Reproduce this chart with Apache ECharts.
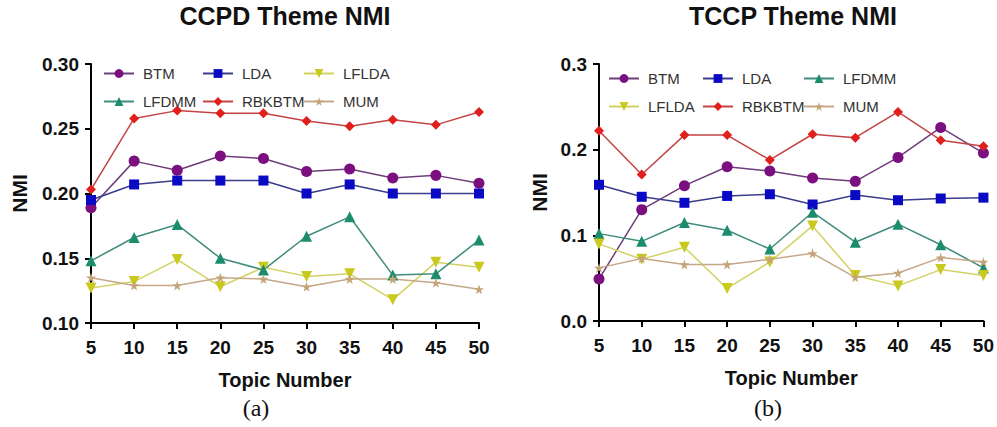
<!DOCTYPE html>
<html>
<head>
<meta charset="utf-8">
<script src="https://cdn.jsdelivr.net/npm/echarts@6/dist/echarts.min.js"></script>
<style>
  html, body { margin: 0; padding: 0; background: #fff; }
  #chart { width: 997px; height: 427px; }
</style>
</head>
<body>
<div id="chart"></div>
<script>
// topic numbers (x axis)
const topics = [5, 10, 15, 20, 25, 30, 35, 40, 45, 50]

// (a) CCPD Theme NMI
const ccpdBTM    = [0.189, 0.225, 0.218, 0.229, 0.227, 0.217, 0.219, 0.212, 0.214, 0.208]
const ccpdLDA    = [0.195, 0.207, 0.210, 0.210, 0.210, 0.200, 0.207, 0.200, 0.200, 0.200]
const ccpdLFLDA  = [0.127, 0.132, 0.149, 0.128, 0.143, 0.136, 0.138, 0.118, 0.147, 0.143]
const ccpdLFDMM  = [0.148, 0.166, 0.176, 0.150, 0.141, 0.167, 0.182, 0.137, 0.138, 0.164]
const ccpdRBKBTM = [0.203, 0.258, 0.264, 0.262, 0.262, 0.256, 0.252, 0.257, 0.253, 0.263]
const ccpdMUM    = [0.135, 0.129, 0.129, 0.135, 0.134, 0.128, 0.134, 0.134, 0.131, 0.126]

// (b) TCCP Theme NMI
const tccpBTM    = [0.049, 0.130, 0.158, 0.180, 0.175, 0.167, 0.163, 0.191, 0.226, 0.196]
const tccpLDA    = [0.159, 0.145, 0.138, 0.146, 0.148, 0.136, 0.147, 0.141, 0.143, 0.144]
const tccpLFDMM  = [0.102, 0.093, 0.115, 0.106, 0.084, 0.127, 0.092, 0.113, 0.089, 0.062]
const tccpLFLDA  = [0.090, 0.072, 0.086, 0.038, 0.069, 0.111, 0.053, 0.041, 0.060, 0.053]
const tccpRBKBTM = [0.222, 0.171, 0.217, 0.217, 0.188, 0.218, 0.214, 0.244, 0.211, 0.204]
const tccpMUM    = [0.062, 0.073, 0.066, 0.066, 0.072, 0.079, 0.051, 0.056, 0.074, 0.069]

const starPath = 'path://M50,0 L61,35 L98,35 L68,57 L79,91 L50,70 L21,91 L32,57 L2,35 L39,35 Z'
const sans = '"Liberation Sans", Arial, sans-serif'

// 样式
const styles = {
  BTM:    { symbol: 'circle',   size: 11, rotate: 0,   mark: '#7b0f80', line: '#6e3d7c' },
  LDA:    { symbol: 'rect',     size: 10, rotate: 0,   mark: '#0a0ac4', line: '#3c3c8c' },
  LFLDA:  { symbol: 'triangle', size: 11, rotate: 180, mark: '#c9c91e', line: '#d2d264' },
  LFDMM:  { symbol: 'triangle', size: 11, rotate: 0,   mark: '#1b8c6c', line: '#3f8c7c' },
  RBKBTM: { symbol: 'diamond',  size: 10, rotate: 0,   mark: '#e0201c', line: '#c44444' },
  MUM:    { symbol: starPath,   size: 10, rotate: 0,   mark: '#c4a478', line: '#c4a888' }
}

function makeSeries(name, values, idx) {
  const s = styles[name]
  return {
    name: name,
    type: 'line',
    xAxisIndex: idx,
    yAxisIndex: idx,
    symbol: s.symbol,
    symbolSize: s.size,
    symbolRotate: s.rotate,
    itemStyle: { color: s.mark },
    lineStyle: { color: s.line, width: 1.5 },
    data: topics.map((t, i) => [t, values[i]]),
    z: 3
  }
}

function makeLegend(name, left, top) {
  return {
    data: [name],
    left: left,
    top: top,
    itemWidth: 30,
    itemHeight: 11,
    selectedMode: false,
    textStyle: { fontSize: 15, color: '#333', fontFamily: sans, padding: [0, 0, 0, 4] }
  }
}

const axisFont = { fontSize: 19, fontWeight: 'bold', color: '#111', fontFamily: sans }
const axisLine = { show: true, onZero: false, lineStyle: { color: '#000', width: 2 } }
const axisTick = { show: true, length: 6, lineStyle: { color: '#000', width: 2 } }
const nameFont = { fontSize: 20, fontWeight: 'bold', color: '#111', fontFamily: sans }

function makeX(idx) {
  return {
    type: 'value', gridIndex: idx, min: 5, max: 50, interval: 5,
    name: 'Topic Number', nameLocation: 'middle', nameGap: 47,
    nameTextStyle: nameFont,
    axisLine: axisLine, axisTick: axisTick,
    axisLabel: Object.assign({ margin: 15 }, axisFont),
    splitLine: { show: false }
  }
}

function makeY(idx, min, max, interval, digits) {
  return {
    type: 'value', gridIndex: idx, min: min, max: max, interval: interval,
    name: 'NMI', nameLocation: 'middle', nameGap: idx === 0 ? 61 : 49,
    nameTextStyle: Object.assign({}, nameFont, { fontSize: 21 }),
    axisLine: axisLine, axisTick: axisTick,
    axisLabel: Object.assign({ margin: 12, formatter: v => v.toFixed(digits) }, axisFont),
    splitLine: { show: false }
  }
}

function makeText(text, x, y, font) {
  return {
    type: 'text', x: x, y: y,
    style: { text: text, font: font, fill: '#111', align: 'center', verticalAlign: 'middle' }
  }
}

const chart = echarts.init(document.getElementById('chart'), null, { renderer: 'svg' })

const option = {
  backgroundColor: '#fff',
  animation: false,
  grid: [
    { left: 91, right: 518, top: 64, bottom: 104 },
    { left: 599, right: 11, top: 64, bottom: 106 }
  ],
  xAxis: [makeX(0), makeX(1)],
  yAxis: [makeY(0, 0.10, 0.30, 0.05, 2), makeY(1, 0, 0.3, 0.1, 1)],
  legend: [
    makeLegend('BTM', 98, 61), makeLegend('LDA', 197, 61), makeLegend('LFLDA', 298, 61),
    makeLegend('LFDMM', 98, 89), makeLegend('RBKBTM', 197, 89), makeLegend('MUM', 298, 89),
    makeLegend('BTM', 603, 66), makeLegend('LDA', 697, 66), makeLegend('LFDMM', 798, 66),
    makeLegend('LFLDA', 603, 94), makeLegend('RBKBTM', 697, 94), makeLegend('MUM', 798, 94)
  ],
  graphic: [
    makeText('CCPD Theme NMI', 285, 16, 'bold 25px "Liberation Sans", Arial, sans-serif'),
    makeText('TCCP Theme NMI', 793, 16, 'bold 25px "Liberation Sans", Arial, sans-serif'),
    makeText('(a)', 256, 408, '24px "Liberation Serif", "Times New Roman", serif'),
    makeText('(b)', 768, 408, '24px "Liberation Serif", "Times New Roman", serif')
  ],
  series: [
    makeSeries('BTM', ccpdBTM, 0),
    makeSeries('LDA', ccpdLDA, 0),
    makeSeries('LFLDA', ccpdLFLDA, 0),
    makeSeries('LFDMM', ccpdLFDMM, 0),
    makeSeries('RBKBTM', ccpdRBKBTM, 0),
    makeSeries('MUM', ccpdMUM, 0),
    makeSeries('BTM', tccpBTM, 1),
    makeSeries('LDA', tccpLDA, 1),
    makeSeries('LFDMM', tccpLFDMM, 1),
    makeSeries('LFLDA', tccpLFLDA, 1),
    makeSeries('RBKBTM', tccpRBKBTM, 1),
    makeSeries('MUM', tccpMUM, 1)
  ]
}

chart.setOption(option)
</script>
</body>
</html>
